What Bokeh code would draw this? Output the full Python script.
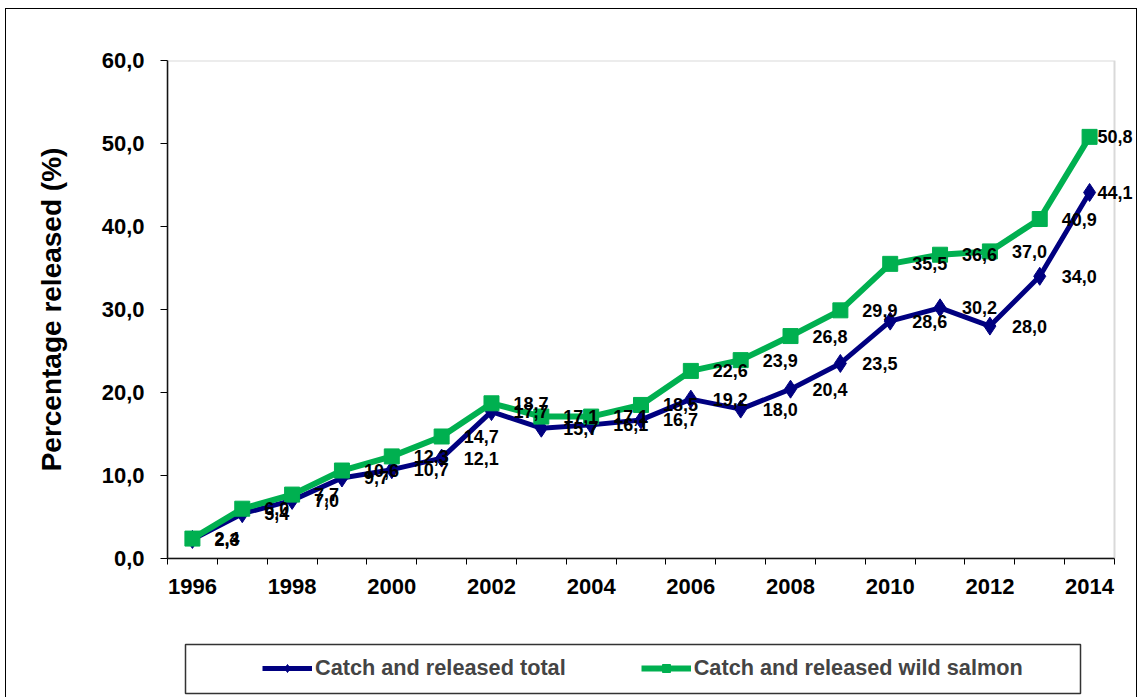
from bokeh.plotting import figure
from bokeh.layouts import column
from bokeh.models import (ColumnDataSource, FixedTicker, CustomJSTickFormatter,
                          Legend, LegendItem, BoxAnnotation, Range1d, LabelSet)
from bokeh.core.properties import value
from bokeh.embed import file_html
from bokeh.resources import INLINE

years = list(range(1996, 2015))
total = [2.3, 5.4, 7.0, 9.7, 10.7, 12.1, 17.7, 15.7, 16.1, 16.7,
         19.2, 18.0, 20.4, 23.5, 28.6, 30.2, 28.0, 34.0, 44.1]
wild = [2.4, 6.0, 7.7, 10.6, 12.3, 14.7, 18.7, 17.1, 17.1, 18.5,
        22.6, 23.9, 26.8, 29.9, 35.5, 36.6, 37.0, 40.9, 50.8]
y_ticks = [0, 10, 20, 30, 40, 50, 60]
x_label_years = list(range(1996, 2015, 2))
series_names = ["Catch and released total", "Catch and released wild salmon"]

FONT = "Liberation Sans"
NAVY = "#000080"
GREEN = "#00B050"
W = 1130


def fmt(v):
    return f"{v:.1f}".replace(".", ",")


lab_off = [22] * (len(years) - 1) + [8]

src_t = ColumnDataSource(dict(x=years, y=total, t=[fmt(v) for v in total], xo=lab_off))
src_w = ColumnDataSource(dict(x=years, y=wild, t=[fmt(v) for v in wild], xo=lab_off))

x0, x1 = years[0] - 0.5, years[-1] + 0.5
frame_w = W - 161 - 2
x_end = x0 + frame_w * (x1 - x0) / 947.0

p = figure(width=W, height=610, output_backend="svg", toolbar_location=None,
           x_range=Range1d(x0, x_end), y_range=Range1d(y_ticks[0], y_ticks[-1]),
           min_border_left=161, min_border_top=51, min_border_right=2,
           min_border_bottom=61)
p.frame_align = False
p.xgrid.visible = False
p.ygrid.visible = False
p.outline_line_color = None

# plot-area border (grey, top & right)
p.add_layout(BoxAnnotation(left=x0, right=x1, bottom=y_ticks[0], top=y_ticks[-1],
                           fill_alpha=0, line_color="#808080", line_width=2))

# series
lt = p.line("x", "y", source=src_t, line_color=NAVY, line_width=5)
mt = p.scatter("x", "y", source=src_t, marker="diamond", size=18, color=NAVY)
lw = p.line("x", "y", source=src_w, line_color=GREEN, line_width=6)
mw = p.scatter("x", "y", source=src_w, marker="square", size=15, color=GREEN)

for s in (src_w, src_t):
    p.add_layout(LabelSet(x="x", y="y", text="t", source=s, x_offset="xo",
                          text_align="left", text_baseline="middle",
                          text_font=value(FONT), text_font_style="bold",
                          text_font_size="18px", text_color="black"))

# axes
fmt_js = CustomJSTickFormatter(code="return tick.toFixed(1).replace('.', ',');")
p.yaxis.ticker = FixedTicker(ticks=y_ticks)
p.yaxis.formatter = fmt_js
p.yaxis.major_tick_out = 7
p.yaxis.major_tick_in = 0
p.yaxis.minor_tick_line_color = None
p.yaxis.major_tick_line_color = "black"
p.yaxis.major_label_standoff = 16
p.yaxis.axis_label = "Percentage released (%)"
p.yaxis.axis_label_text_font = FONT
p.yaxis.axis_label_text_font_style = "bold"
p.yaxis.axis_label_text_font_size = "28px"
p.yaxis.axis_label_text_color = "black"
p.yaxis.axis_label_standoff = 32

p.xaxis.bounds = (x0, x1)
p.xaxis.ticker = FixedTicker(ticks=x_label_years,
                             minor_ticks=[y - 0.5 for y in years] + [x1])
p.xaxis.major_tick_line_color = None
p.xaxis.major_tick_out = 0
p.xaxis.minor_tick_out = 6
p.xaxis.minor_tick_in = 0
p.xaxis.minor_tick_line_color = "black"
p.xaxis.major_label_standoff = 14

for ax in (p.xaxis[0], p.yaxis[0]):
    ax.axis_line_color = "black"
    ax.axis_line_width = 1.5
    ax.major_label_text_font = FONT
    ax.major_label_text_font_style = "bold"
    ax.major_label_text_font_size = "22px"
    ax.major_label_text_color = "black"

# legend panel: its frame is the legend box
p2 = figure(width=W, height=78, output_backend="svg", toolbar_location=None,
            x_axis_type=None, y_axis_type=None,
            x_range=Range1d(0, 1), y_range=Range1d(0, 1),
            min_border_left=179, min_border_right=56, min_border_top=25,
            min_border_bottom=4)
p2.frame_align = False
p2.outline_line_color = "#333333"
p2.outline_line_width = 1.5
gt = [p2.line("x", "y", source=src_t, line_color=NAVY, line_width=5),
      p2.scatter("x", "y", source=src_t, marker="diamond", size=12, color=NAVY)]
gw = [p2.line("x", "y", source=src_w, line_color=GREEN, line_width=6),
      p2.scatter("x", "y", source=src_w, marker="square", size=11, color=GREEN)]
legend = Legend(items=[LegendItem(label=series_names[0], renderers=gt),
                       LegendItem(label=series_names[1], renderers=gw)],
                orientation="horizontal", location=(77, 12),
                margin=0, padding=0, spacing=75, glyph_width=50, glyph_height=20,
                label_standoff=3, label_text_font=FONT, label_text_font_style="bold",
                label_text_font_size="21.7px", border_line_alpha=0,
                background_fill_alpha=0)
p2.add_layout(legend, "center")

layout = column(p, p2, spacing=0,
                styles={"margin": "8px 0 0 5px", "border-style": "solid solid none solid",
                        "border-width": "1px", "border-color": "black"})

open("out.html", "w").write(file_html(layout, INLINE))
